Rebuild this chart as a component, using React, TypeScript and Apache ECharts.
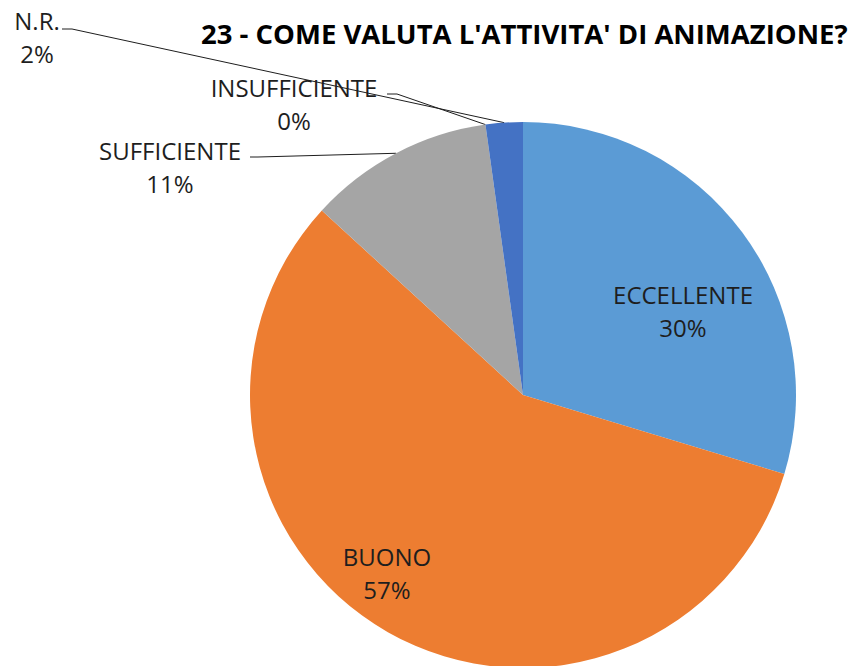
import { useEffect, useRef } from 'react';
import * as echarts from 'echarts';

const titleText = "23 - COME VALUTA L'ATTIVITA' DI ANIMAZIONE?";
const categories = ['ECCELLENTE', 'BUONO', 'SUFFICIENTE', 'INSUFFICIENTE', 'N.R.'];
const values = [27, 52, 10, 0, 2];
const colors = ['#5B9BD5', '#ED7D31', '#A5A5A5', '#FFC000', '#4472C4'];
const insideLabels = [true, true, false, false, false];

// label centres and the outer end of the leader lines (layout only)
const labelCentres: [number, number][] = [
  [683, 311],
  [387, 573],
  [170, 167],
  [294, 104],
  [37, 37],
];
const leaderEnds: ([number, number][] | null)[] = [
  null,
  null,
  [[258, 157], [250, 157]],
  [[397, 94], [387, 94]],
  [[72, 29], [62, 29]],
];

export default function App() {
  const ref = useRef<HTMLDivElement>(null);
  useEffect(() => {
    if (!ref.current) return;
    const chart = echarts.init(ref.current, null, { renderer: 'svg' });
    const font = "'Open Sans', sans-serif";
    chart.setOption({
      animation: false,
      backgroundColor: '#ffffff',
      title: {
        text: titleText,
        left: 196,
        top: 14,
        textStyle: { fontFamily: font, fontSize: 27.5, fontWeight: 'bold', color: '#000000' },
      },
      series: [
        {
          type: 'pie',
          center: [523, 395],
          radius: 273,
          startAngle: 90,
          clockwise: true,
          avoidLabelOverlap: false,
          percentPrecision: 0,
          itemStyle: { borderWidth: 0 },
          label: {
            show: true,
            position: 'outside',
            formatter: '{b}\n{d}%',
            fontFamily: font,
            fontSize: 24,
            lineHeight: 33,
            color: '#1e1e1e',
            align: 'center',
          },
          labelLine: {
            show: true,
            lineStyle: { color: '#1e1e1e', width: 1 },
          },
          labelLayout: (params: any) => {
            const i = params.dataIndex;
            const [x, y] = labelCentres[i];
            const out: any = { x, y, align: 'center', verticalAlign: 'middle' };
            const ends = leaderEnds[i];
            if (ends && params.labelLinePoints) {
              const start = params.labelLinePoints[0];
              out.labelLinePoints = [[start[0], start[1]], ends[0], ends[1]];
            }
            return out;
          },
          data: categories.map((name, i) => ({
            name,
            value: values[i],
            itemStyle: { color: colors[i] },
            label: insideLabels[i] ? { position: 'inside' } : undefined,
            labelLine: insideLabels[i] ? { show: false } : undefined,
          })),
        },
      ],
    });
    return () => chart.dispose();
  }, []);
  return (
    <div
      ref={ref}
      style={{ position: 'absolute', left: 0, top: 0, width: 855, height: 666 }}
    />
  );
}
